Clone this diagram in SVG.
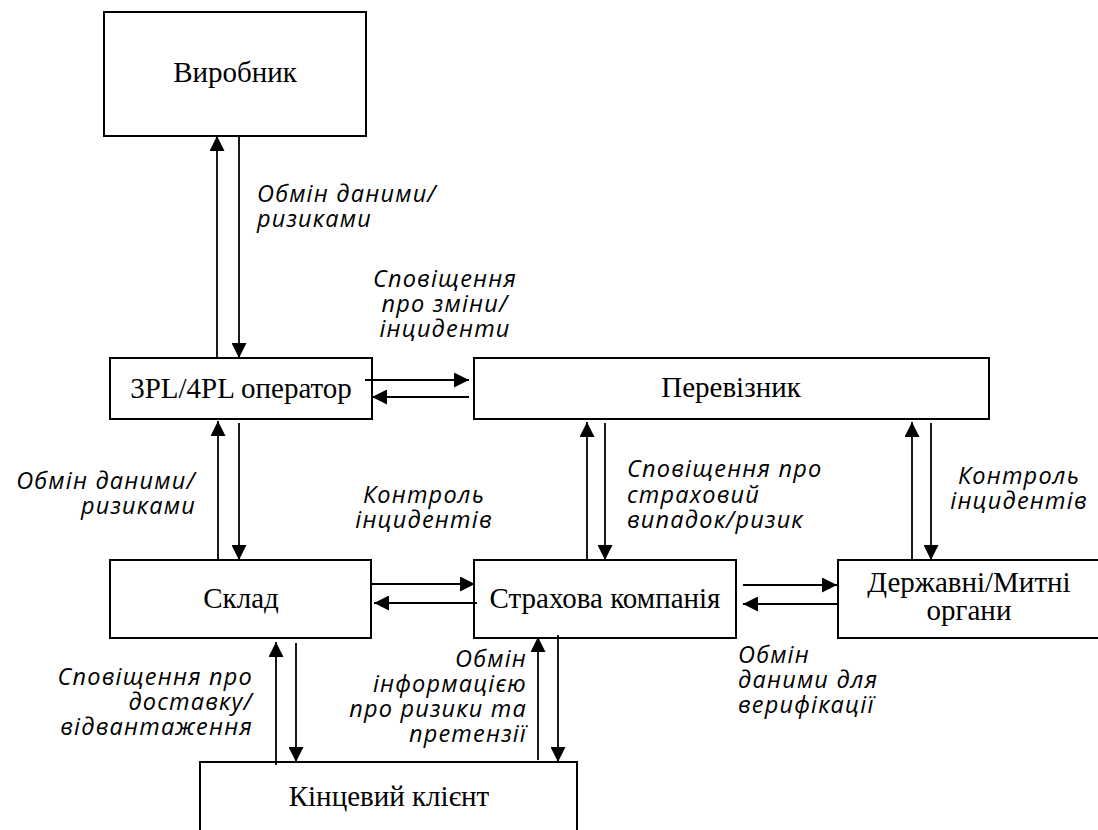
<svg xmlns="http://www.w3.org/2000/svg" width="1098" height="830" viewBox="0 0 1098 830">
<style>
.box{fill:#fff;stroke:#000;stroke-width:2}
.bt{font-family:"Liberation Serif","Times New Roman",serif;font-size:29px;fill:#000;text-anchor:middle}
.lb{font-family:"Open Sans","Noto Sans",sans-serif;font-style:italic;font-size:23.5px;fill:#000;letter-spacing:1.2px}
.c{stroke:#000;stroke-width:1.8;fill:none;marker-end:url(#ah)}
</style>
<defs>
<marker id="ah" markerUnits="userSpaceOnUse" markerWidth="15" markerHeight="15" refX="15" refY="7.5" orient="auto">
<path d="M0,0 L15,7.5 L0,15 z" fill="#000"/>
</marker>
</defs>
<rect width="1098" height="830" fill="#fff"/>
<g id="n-vyrobnyk"><rect class="box" x="104" y="12" width="262" height="124"/><text class="bt" x="235" y="82">Виробник</text></g>
<g id="n-3pl"><rect class="box" x="110" y="358" width="262" height="61"/><text class="bt" x="241" y="398">3PL/4PL оператор</text></g>
<g id="n-perevoznyk"><rect class="box" x="474" y="358" width="515" height="61"/><text class="bt" x="731" y="397">Перевізник</text></g>
<g id="n-sklad"><rect class="box" x="110" y="560" width="261" height="78"/><text class="bt" x="241" y="608">Склад</text></g>
<g id="n-strakh"><rect class="box" x="474" y="560" width="262" height="78"/><text class="bt" x="605" y="608">Страхова компанія</text></g>
<g id="n-derzh"><rect class="box" x="838" y="560" width="264" height="78"/><text class="bt" x="969" y="592">Державні/Митні</text><text class="bt" x="969" y="620">органи</text></g>
<g id="n-klient"><rect class="box" x="200" y="762" width="377" height="80"/><text class="bt" x="389" y="806">Кінцевий клієнт</text></g>
<g id="connectors">
<line class="c" x1="217" y1="358" x2="217" y2="136"/>
<line class="c" x1="239" y1="136" x2="239" y2="358"/>
<line class="c" x1="365" y1="380" x2="469" y2="380"/>
<line class="c" x1="469" y1="397" x2="372" y2="397"/>
<line class="c" x1="218" y1="560" x2="218" y2="421"/>
<line class="c" x1="239" y1="423" x2="239" y2="560"/>
<line class="c" x1="372" y1="584" x2="475" y2="584"/>
<line class="c" x1="477" y1="603" x2="374" y2="603"/>
<line class="c" x1="587" y1="560" x2="587" y2="422"/>
<line class="c" x1="605" y1="423" x2="605" y2="560"/>
<line class="c" x1="912" y1="560" x2="912" y2="422"/>
<line class="c" x1="931" y1="423" x2="931" y2="560"/>
<line class="c" x1="743" y1="585" x2="837" y2="585"/>
<line class="c" x1="838" y1="604" x2="743" y2="604"/>
<line class="c" x1="276" y1="765" x2="276" y2="642"/>
<line class="c" x1="296" y1="643" x2="296" y2="762"/>
<line class="c" x1="538" y1="760" x2="538" y2="637"/>
<line class="c" x1="558" y1="635" x2="558" y2="762"/>
</g>
<g id="labels">
<text class="lb" x="257" y="202">Обмін даними/</text>
<text class="lb" x="257" y="227">ризиками</text>
<g text-anchor="middle"><text class="lb" x="445" y="287">Сповіщення</text><text class="lb" x="445" y="312">про зміни/</text><text class="lb" x="445" y="337">інциденти</text></g>
<g text-anchor="end"><text class="lb" x="196" y="489">Обмін даними/</text><text class="lb" x="196" y="514">ризиками</text></g>
<g text-anchor="middle"><text class="lb" x="424" y="503">Контроль</text><text class="lb" x="424" y="528">інцидентів</text></g>
<text class="lb" x="627" y="477">Сповіщення про</text>
<text class="lb" x="627" y="503">страховий</text>
<text class="lb" x="627" y="528">випадок/ризик</text>
<g text-anchor="middle"><text class="lb" x="1019" y="484">Контроль</text><text class="lb" x="1019" y="509">інцидентів</text></g>
<text class="lb" x="738" y="663">Обмін</text>
<text class="lb" x="738" y="688">даними для</text>
<text class="lb" x="738" y="713">верифікації</text>
<g text-anchor="end"><text class="lb" x="253" y="685">Сповіщення про</text><text class="lb" x="253" y="710">доставку/</text><text class="lb" x="253" y="735">відвантаження</text></g>
<g text-anchor="end"><text class="lb" x="527" y="667">Обмін</text><text class="lb" x="527" y="692">інформацією</text><text class="lb" x="527" y="717">про ризики та</text><text class="lb" x="527" y="742">претензії</text></g>
</g>
</svg>
